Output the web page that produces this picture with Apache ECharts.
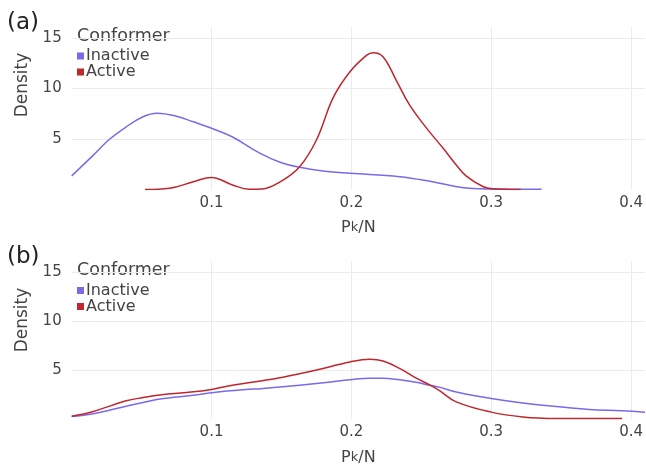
<!DOCTYPE html>
<html>
<head>
<meta charset="utf-8">
<script src="https://cdn.jsdelivr.net/npm/echarts@6/dist/echarts.min.js"></script>
<style>
html,body{margin:0;padding:0;background:#fff;}
#chart{width:646px;height:467px;}
</style>
</head>
<body>
<div id="chart"></div>
<script>
// ---- Data ----
const panelLabels = ['(a)', '(b)'];
const seriesNames = ['Inactive', 'Active'];
const legendTitle = 'Conformer';
const xTitle = 'Pk/N';
const yTitle = 'Density';

// Panel (a)
const aInactiveX = [0, 0.0155, 0.027, 0.039, 0.051, 0.061, 0.075, 0.087, 0.1, 0.115, 0.1345, 0.149, 0.163, 0.181, 0.199, 0.2346, 0.258, 0.282, 0.306, 0.336];
const aInactiveY = [1.35, 3.4, 4.97, 6.2, 7.2, 7.54, 7.25, 6.7, 6.06, 5.2, 3.6, 2.7, 2.2, 1.8, 1.6, 1.27, 0.77, 0.15, 0.03, 0.02];
const aActiveX = [0.0524, 0.070, 0.087, 0.1, 0.115, 0.127, 0.136, 0.149, 0.163, 0.175, 0.187, 0.199, 0.211, 0.2155, 0.2226, 0.232, 0.2416, 0.2536, 0.2655, 0.274, 0.282, 0.294, 0.301, 0.321];
const aActiveY = [0, 0.12, 0.77, 1.2, 0.45, 0.03, 0.05, 0.75, 2.26, 4.9, 9.1, 11.66, 13.3, 13.55, 13.15, 10.84, 8.37, 6.1, 4.1, 2.6, 1.35, 0.3, 0.08, 0];

// Panel (b)
const bInactiveX = [0, 0.0155, 0.039, 0.051, 0.063, 0.087, 0.1, 0.111, 0.13, 0.151, 0.175, 0.199, 0.213, 0.2226, 0.2345, 0.2464, 0.257, 0.263, 0.275, 0.3, 0.3226, 0.3464, 0.37, 0.3936, 0.41];
const bInactiveY = [0.25, 0.54, 1.3, 1.69, 2.03, 2.43, 2.68, 2.85, 3.05, 3.28, 3.61, 4.0, 4.17, 4.17, 4.0, 3.74, 3.41, 3.25, 2.75, 2.09, 1.63, 1.27, 0.97, 0.84, 0.7];
const bActiveX = [0, 0.0155, 0.039, 0.051, 0.063, 0.087, 0.1, 0.111, 0.13, 0.151, 0.175, 0.199, 0.213, 0.2226, 0.2345, 0.2464, 0.257, 0.263, 0.275, 0.3, 0.3226, 0.3464, 0.37, 0.3936];
const bActiveY = [0.28, 0.77, 1.86, 2.19, 2.46, 2.78, 3.02, 3.35, 3.77, 4.27, 5.0, 5.82, 6.09, 5.92, 5.16, 4.17, 3.41, 2.9, 1.75, 0.7, 0.21, 0.05, 0.04, 0.04];

// ---- Styling ----
const FONT = 'DejaVu Sans';
const colInactive = '#7b6ae8';
const colActive = '#c0262d';
const gridCol = '#eaeaef';
const textCol = '#444';

const zip = (xs, ys) => xs.map((x, i) => [x, ys[i]]);

const gridTops = [26.9, 261.2];
const gridH = 162.6;

function xAxisFor(i) {
  return {
    type: 'value', gridIndex: i, min: 0, max: 0.41, interval: 0.1,
    axisLine: {show: false}, axisTick: {show: false},
    axisLabel: {showMinLabel: false, showMaxLabel: false, margin: 6, color: textCol, fontFamily: FONT, fontSize: 15},
    splitLine: {show: true, showMinLine: false, showMaxLine: false, lineStyle: {color: gridCol, width: 1}},
    name: '{p|P}{k|k}{p|/N}', nameLocation: 'middle', nameGap: i === 0 ? 30 : 31,
    nameTextStyle: {rich: {p: {fontFamily: FONT, fontSize: 16, color: textCol}, k: {fontFamily: FONT, fontSize: 13, color: textCol}}}
  };
}
function yAxisFor(i) {
  return {
    type: 'value', gridIndex: i, min: 0, max: 16.1, interval: 5,
    axisLine: {show: false}, axisTick: {show: false},
    axisLabel: {showMinLabel: false, showMaxLabel: false, margin: 10, color: textCol, fontFamily: FONT, fontSize: 15},
    splitLine: {show: true, showMinLine: false, showMaxLine: false, lineStyle: {color: gridCol, width: 1}}
  };
}
function lineSeries(name, data, color, idx) {
  return {
    name: name, type: 'line', xAxisIndex: idx, yAxisIndex: idx,
    data: data, smooth: 0.4, showSymbol: false, symbol: 'none',
    lineStyle: {color: color, width: 1.5}, itemStyle: {color: color},
    silent: true, animation: false
  };
}
function legendFor(top) {
  return {
    left: 77, top: top, orient: 'vertical', padding: 0, itemGap: 0,
    itemWidth: 7, itemHeight: 7, icon: 'rect',
    data: seriesNames,
    textStyle: {fontFamily: FONT, fontSize: 16, color: textCol, lineHeight: 16, padding: [0, 0, 0, -3]},
    selectedMode: false
  };
}

const chart = echarts.init(document.getElementById('chart'), null, {renderer: 'canvas'});
chart.setOption({
  animation: false,
  backgroundColor: '#fff',
  grid: gridTops.map(t => ({left: 71.7, right: 0, top: t, height: gridH, containLabel: false})),
  xAxis: [xAxisFor(0), xAxisFor(1)],
  yAxis: [yAxisFor(0), yAxisFor(1)],
  legend: [legendFor(48), legendFor(282.5)],
  series: [
    lineSeries(seriesNames[0], zip(aInactiveX, aInactiveY), colInactive, 0),
    lineSeries(seriesNames[1], zip(aActiveX, aActiveY), colActive, 0),
    lineSeries(seriesNames[0], zip(bInactiveX, bInactiveY), colInactive, 1),
    lineSeries(seriesNames[1], zip(bActiveX, bActiveY), colActive, 1)
  ],
  graphic: [
    {type: 'text', left: 7, top: 12, style: {text: panelLabels[0], font: '23px "DejaVu Sans"', fill: '#222'}},
    {type: 'text', left: 7, top: 246, style: {text: panelLabels[1], font: '23px "DejaVu Sans"', fill: '#222'}},
    {type: 'text', x: 77, y: 36, style: {text: legendTitle, font: '17.5px "DejaVu Sans"', fill: textCol, verticalAlign: 'middle'}},
    {type: 'text', x: 77, y: 270, style: {text: legendTitle, font: '17.5px "DejaVu Sans"', fill: textCol, verticalAlign: 'middle'}},
    {type: 'text', x: 23, y: 85, rotation: Math.PI / 2, style: {text: yTitle, font: '17px "DejaVu Sans"', fill: textCol, align: 'center', verticalAlign: 'middle'}},
    {type: 'text', x: 23, y: 320, rotation: Math.PI / 2, style: {text: yTitle, font: '17px "DejaVu Sans"', fill: textCol, align: 'center', verticalAlign: 'middle'}}
  ]
});
</script>
</body>
</html>
